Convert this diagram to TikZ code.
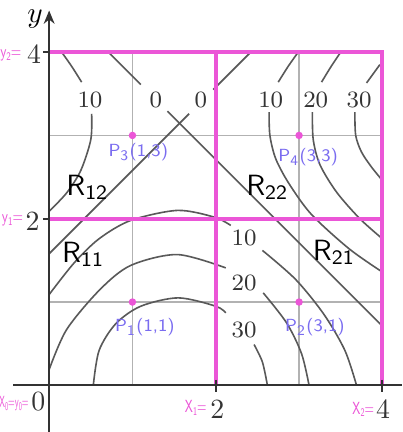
\documentclass[tikz,border=0pt]{standalone}
\usetikzlibrary{arrows.meta}
\definecolor{ctmag}{RGB}{235,86,215}
\definecolor{ctviolet}{RGB}{122,108,240}
\newcommand{\ctsub}[1]{\raisebox{-0.35ex}{\fontsize{4}{4}\selectfont #1}}
\tikzset{
  ctgrid/.style={draw=black!30, line width=0.4pt},
  ctlevel/.style={draw=black!65, line width=0.55pt},
  ctsplit/.style={draw=ctmag, line width=1.3pt},
  ctaxis/.style={draw=black!80, line width=0.7pt},
  ctnum/.style={font=\fontsize{8}{9}\selectfont, text=black!80, inner sep=0pt},
  cttick/.style={font=\fontsize{9.5}{10}\selectfont, text=black!80, inner sep=0pt},
  ctnote/.style={font=\sffamily\fontsize{6}{7}\selectfont, text=ctmag, inner sep=0pt},
  ctpt/.style={font=\sffamily\fontsize{6}{7}\selectfont, text=ctviolet, inner sep=0pt},
  ctreg/.style={font=\sffamily\fontsize{10}{12}\selectfont, inner sep=0pt},
  ctdot/.style={circle, fill=ctmag, inner sep=0pt, minimum size=0.9mm}
}

\begin{document}
\begin{tikzpicture}
  \useasboundingbox (-0.59,-0.56) rectangle (4.236,4.626);
  \foreach \k in {1,3} {
    \draw[ctgrid] (\k,0) -- (\k,4);
    \draw[ctgrid] (0,\k) -- (4,\k);
  }
  \draw[ctlevel] plot[smooth] coordinates {(0.15,4) (0.27,3.83) (0.39,3.64)};
  \draw[ctlevel] plot[smooth] coordinates {(0.51,3.26) (0.50,2.95) (0.38,2.58) (0.21,2.31) (0,2.09)};
  \draw[ctlevel] (0.71,4) -- (1.10,3.61);
  \draw[ctlevel] (1.42,3.29) -- (4,0.71);
  \draw[ctlevel] (0,1.58) -- (1.68,3.26);
  \draw[ctlevel] (1.97,3.55) -- (2.42,4);
  \draw[ctlevel] plot[smooth] coordinates {(2.99,4) (2.87,3.83) (2.75,3.64)};
  \draw[ctlevel] plot[smooth] coordinates {(2.64,3.28) (2.65,3.0) (2.72,2.72) (2.88,2.42) (3.15,2.05) (3.6,1.64) (4,1.36)};
  \draw[ctlevel] plot[smooth] coordinates {(3.50,4) (3.38,3.82) (3.27,3.64)};
  \draw[ctlevel] plot[smooth] coordinates {(3.16,3.28) (3.17,2.95) (3.25,2.65) (3.45,2.32) (3.73,2.0) (4,1.76)};
  \draw[ctlevel] plot[smooth] coordinates {(3.97,3.85) (3.89,3.74) (3.81,3.63)};
  \draw[ctlevel] plot[smooth] coordinates {(3.67,3.28) (3.68,3.0) (3.75,2.8) (3.87,2.62) (4,2.46)};
  \draw[ctlevel] plot[smooth] coordinates {(0,1.09) (0.3,1.47) (0.6,1.76) (0.98,1.98) (1.54,2.1) (1.98,2.02) (2.18,1.92)};
  \draw[ctlevel] plot[smooth] coordinates {(2.56,1.62) (2.96,1.27) (3.3,0.85) (3.55,0.42) (3.69,0)};
  \draw[ctlevel] plot[smooth] coordinates {(0,0.19) (0.21,0.67) (0.61,1.15) (0.98,1.44) (1.54,1.57) (2.12,1.41)};
  \draw[ctlevel] plot[smooth] coordinates {(2.57,1.11) (2.85,0.75) (3.03,0.38) (3.12,0)};
  \draw[ctlevel] plot[smooth] coordinates {(0.53,0) (0.6,0.42) (0.8,0.74) (1.1,0.95) (1.55,1.05) (2.0,0.95) (2.12,0.87)};
  \draw[ctlevel] plot[smooth] coordinates {(2.46,0.49) (2.56,0.28) (2.62,0)};

  \draw[ctsplit] (0,4) -- (4,4) -- (4,0);
  \draw[ctsplit] (2,0) -- (2,4);
  \draw[ctsplit] (0,2) -- (4,2);

  \coordinate (ybot) at (0,-0.56);
  \coordinate (ytop) at (0,4.5);
  \coordinate (xleft) at (-0.43,0);
  \coordinate (xright) at (4.24,0);
  \draw[ctaxis] (xleft) -- (xright);
  \draw[ctaxis, -{Stealth[length=1.6mm,width=1.3mm]}] (ybot) -- (ytop);
  \foreach \k in {2,4} {
    \draw[ctaxis] (-0.07,\k) -- (0,\k);
    \draw[ctaxis] (\k,0.07) -- (\k,-0.08);
  }

  \node[font=\fontsize{10}{11}\selectfont, inner sep=0pt] (ylab) at (-0.17,4.40) {$y$};
  \node[cttick] (ty4) at (-0.18,3.98) {4};
  \node[cttick] (ty2) at (-0.20,1.97) {2};
  \node[cttick] (t0) at (-0.13,-0.2) {0};
  \node[cttick] (tx2) at (2.02,-0.29) {2};
  \node[cttick] (tx4) at (4.01,-0.29) {4};

  \node[ctnum] (a10) at (0.49,3.43) {10};
  \node[ctnum] (a0) at (1.28,3.43) {0};
  \node[ctnum] (b0) at (1.82,3.43) {0};
  \node[ctnum] (b10) at (2.66,3.43) {10};
  \node[ctnum] (b20) at (3.20,3.43) {20};
  \node[ctnum] (b30) at (3.72,3.43) {30};
  \node[ctnum] (c10) at (2.34,1.77) {10};
  \node[ctnum] (c20) at (2.34,1.23) {20};
  \node[ctnum] (c30) at (2.34,0.66) {30};

  \node[ctnote] (ny2) at (-0.46,3.96) {\scalebox{0.72}[1]{y\ctsub{2}=}};
  \node[ctnote] (ny1) at (-0.44,1.98) {\scalebox{0.72}[1]{y\ctsub{1}=}};
  \node[ctnote, anchor=east, font=\sffamily\fontsize{5.5}{6}\selectfont] (n00) at (-0.24,-0.22) {\scalebox{0.5}[1]{X\ctsub{0}=y\ctsub{0}=}};
  \node[ctnote] (nx1) at (1.76,-0.27) {\scalebox{0.65}[1]{X\ctsub{1}=}};
  \node[ctnote] (nx2) at (3.77,-0.29) {\scalebox{0.65}[1]{X\ctsub{2}=}};

  \node[ctdot] (p1) at (1,1) {};
  \node[ctdot] (p2) at (3,1) {};
  \node[ctdot] (p3) at (1,3) {};
  \node[ctdot] (p4) at (3,3) {};
  \node[ctpt] (p1lab) at (1.15,0.70) {P\textsubscript{1}(1,1)};
  \node[ctpt] (p2lab) at (3.19,0.70) {P\textsubscript{2}(3,1)};
  \node[ctpt] (p3lab) at (1.07,2.80) {P\textsubscript{3}(1,3)};
  \node[ctpt] (p4lab) at (3.11,2.74) {P\textsubscript{4}(3,3)};

  \node[ctreg] (r12) at (0.46,2.38) {R\textsubscript{12}};
  \node[ctreg] (r11) at (0.41,1.57) {R\textsubscript{11}};
  \node[ctreg] (r22) at (2.62,2.38) {R\textsubscript{22}};
  \node[ctreg] (r21) at (3.42,1.60) {R\textsubscript{21}};
\end{tikzpicture}
\end{document}
